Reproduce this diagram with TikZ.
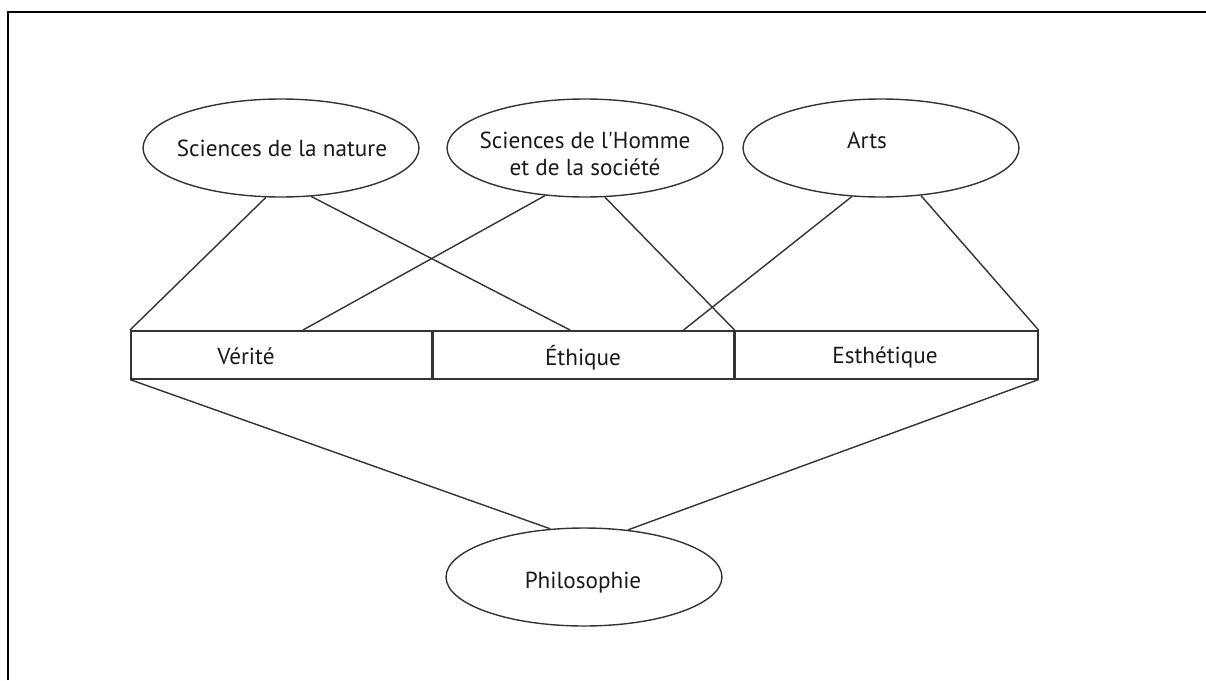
\documentclass[tikz,border=0pt]{standalone}
\usepackage{fontspec}
\setmainfont{PT Sans}
\usetikzlibrary{shapes.geometric,calc}
\definecolor{ln}{HTML}{333333}
\begin{document}
\begin{tikzpicture}[x=0.02cm,y=-0.02cm,
  oval/.style={draw=ln,line width=0.8pt,ellipse,minimum width=5.52cm,minimum height=1.96cm,inner sep=0pt},
  cell/.style={draw=ln,line width=0.9pt,rectangle,minimum width=6.04cm,minimum height=0.96cm,inner sep=0pt,anchor=north west},
  lbl/.style={font=\fontsize{13.2}{15}\selectfont,text=black!90,inner sep=0pt},
  conn/.style={draw=ln,line width=0.8pt}]
\useasboundingbox (0,0) rectangle (1206,680);
\draw[line width=1.2pt] (8,680) -- (8,12) -- (1206,12);
% top ellipses
\node[oval] (nat) at (281,148) {};
\node[lbl] (natt) at (282,148) {Sciences de la nature};
\node[oval] (hom) at (585,148) {};
\node[lbl,align=center] (homt) at (585,154) {Sciences de l\textquotesingle Homme\\et de la société};
\node[oval] (art) at (881,148) {};
\node[lbl] (artt) at (867,140) {Arts};
% boxes
\node[cell] (ver) at (130,330) {};
\node[cell] (eth) at (431,330) {};
\node[cell,minimum width=6.06cm] (est) at (734,330) {};
\node[lbl] (vert) at (246,356) {Vérité};
\node[lbl] (etht) at (583,358) {Éthique};
\node[lbl] (estt) at (885,357) {Esthétique};
% bottom ellipse
\node[oval] (phi) at (584,577) {};
\node[lbl] (phit) at (583,583) {Philosophie};
% connectors
\draw[conn] (nat.253) -- (ver.north west);
\draw[conn] (nat.302) -- ($(eth.north west)+(139,0)$);
\draw[conn] (hom.230) -- ($(ver.north west)+(173,0)$);
\draw[conn] (hom.292) -- (eth.north east);
\draw[conn] (art.239) -- ($(eth.north east)+(-51,0)$);
\draw[conn] (art.310) -- (est.north east);
\draw[conn] (ver.south west) -- (phi.125);
\draw[conn] (est.south east) -- (phi.47);
\end{tikzpicture}
\end{document}
